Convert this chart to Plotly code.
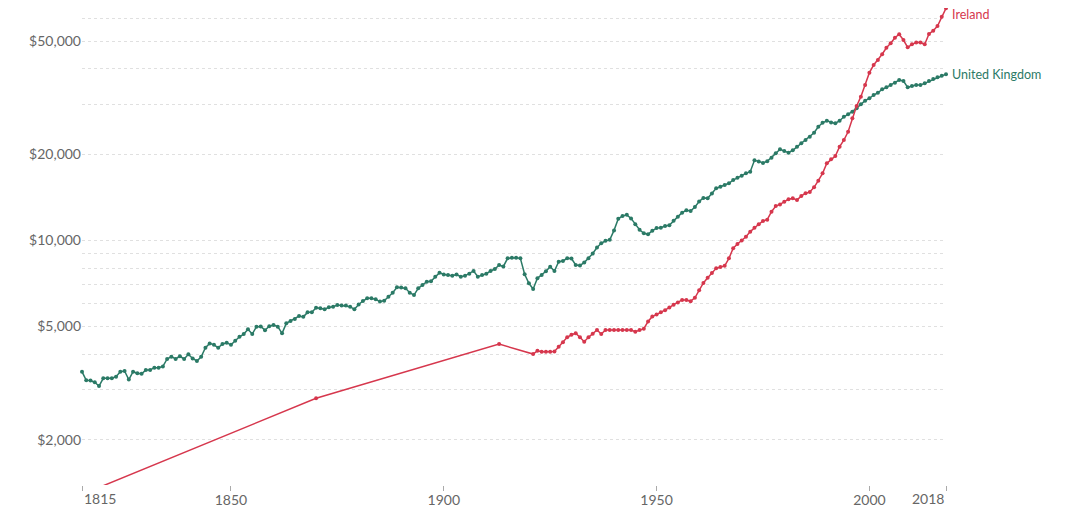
import numpy as np
import plotly.graph_objects as go

# GDP per capita (int.-$)
uk_years = list(range(1815, 2019))
uk_gdp = [
    3470, 3236, 3230, 3185, 3090, 3290, 3290, 3290, 3333, 3470,  # 1815-1824
    3490, 3255, 3470, 3425, 3410, 3518, 3518, 3584, 3584, 3620,  # 1825-1834
    3844, 3916, 3844, 3930, 3844, 3991, 3860, 3782, 3916, 4210,  # 1835-1844
    4360, 4310, 4210, 4340, 4385, 4310, 4456, 4600, 4700, 4882,  # 1845-1854
    4700, 4990, 5000, 4850, 5008, 5057, 4990, 4728, 5125, 5222,  # 1855-1864
    5307, 5436, 5400, 5600, 5600, 5815, 5790, 5740, 5830, 5862,  # 1865-1874
    5943, 5920, 5920, 5862, 5740, 5970, 6137, 6272, 6272, 6220,  # 1875-1884
    6110, 6150, 6355, 6562, 6855, 6840, 6800, 6562, 6440, 6800,  # 1885-1894
    6985, 7175, 7200, 7470, 7715, 7600, 7570, 7520, 7600, 7470,  # 1895-1904
    7520, 7650, 7820, 7470, 7570, 7650, 7820, 7945, 8205, 8110,  # 1905-1914
    8660, 8700, 8700, 8660, 7615, 7080, 6760, 7370, 7570, 7800,  # 1915-1924
    8095, 7820, 8425, 8480, 8660, 8650, 8205, 8180, 8370, 8660,  # 1925-1934
    9000, 9450, 9780, 9980, 10050, 10850, 11920, 12180, 12300, 11950,  # 1935-1944
    11400, 10900, 10600, 10510, 10820, 11050, 11080, 11240, 11300, 11730,  # 1945-1954
    12120, 12520, 12760, 12690, 13100, 13700, 14100, 14050, 14600, 15230,  # 1955-1964
    15430, 15640, 15860, 16290, 16600, 16860, 17190, 17420, 19100, 18930,  # 1965-1974
    18700, 18950, 19500, 20200, 20870, 20600, 20310, 20700, 21300, 21900,  # 1975-1984
    22490, 23100, 23850, 25040, 25850, 26280, 25930, 25730, 26280, 27140,  # 1985-1994
    27670, 28260, 29050, 30000, 30890, 31490, 32340, 32930, 33870, 34400,  # 1995-2004
    35040, 35720, 36500, 36200, 34400, 34800, 35040, 35040, 35540, 36200,  # 2005-2014
    36800, 37300, 37800, 38220,  # 2015-2018
]

ie_years = [1820, 1870, 1913] + list(range(1921, 2019))
ie_gdp = [
    1383, 2800, 4337,  # 1820, 1870, 1913
    4000, 4110, 4075, 4075, 4075, 4080, 4245, 4397, 4578,  # 1921-1929
    4674, 4730, 4578, 4420, 4578, 4715, 4858, 4700, 4858, 4858,  # 1930-1939
    4858, 4858, 4858, 4858, 4858, 4790, 4858, 4910, 5200, 5420,  # 1940-1949
    5500, 5600, 5700, 5820, 5960, 6060, 6190, 6190, 6130, 6300,  # 1950-1959
    6700, 7100, 7400, 7700, 7990, 8070, 8150, 8660, 9390, 9720,  # 1960-1969
    10000, 10310, 10740, 11085, 11400, 11700, 11830, 12615, 13200, 13380,  # 1970-1979
    13675, 13950, 14050, 13850, 14325, 14630, 14800, 15360, 16200, 17190,  # 1980-1989
    18640, 19250, 19770, 21310, 22490, 24050, 26800, 29590, 31910, 35040,  # 1990-1999
    38730, 41190, 42890, 44930, 47340, 49080, 51360, 52800, 50400, 47520,  # 2000-2009
    48690, 49350, 49350, 48690, 52900, 54340, 56440, 60810, 65100,  # 2010-2018
]

y_tickvals = [2000, 3000, 4000, 5000, 6000, 7000, 8000, 9000,
              10000, 20000, 30000, 40000, 50000, 60000]
y_ticktext = ["$2,000", "", "", "$5,000", "", "", "", "",
              "$10,000", "$20,000", "", "", "$50,000", ""]
x_tickvals = [1815, 1850, 1900, 1950, 2000, 2018]
x_ticktext = ["", "1850", "1900", "1950", "2000", ""]

ie_color = "#d6374d"
uk_color = "#2b7a66"
axis_grey = "#666666"
font = "Lato, 'Open Sans', sans-serif"

fig = go.Figure()
fig.add_trace(go.Scatter(x=uk_years, y=uk_gdp, name="United Kingdom",
                         mode="lines+markers", cliponaxis=False,
                         line=dict(color=uk_color, width=1.5),
                         marker=dict(color=uk_color, size=4)))
fig.add_trace(go.Scatter(x=ie_years, y=ie_gdp, name="Ireland",
                         mode="lines+markers", cliponaxis=False,
                         line=dict(color=ie_color, width=1.5),
                         marker=dict(color=ie_color, size=4)))

# end labels for the lines
fig.add_annotation(x=ie_years[-1], y=np.log10(ie_gdp[-1]), text="Ireland",
                   xanchor="left", yanchor="middle", xshift=4, yshift=-6,
                   showarrow=False, font=dict(family=font, size=12.5, color=ie_color))
fig.add_annotation(x=uk_years[-1], y=np.log10(uk_gdp[-1]), text="United Kingdom",
                   xanchor="left", yanchor="middle", xshift=4,
                   showarrow=False, font=dict(family=font, size=12.5, color=uk_color))

# first / last year labels sit inside the axis ends
fig.add_annotation(x=x_tickvals[0], y=0, yref="paper", text=str(x_tickvals[0]),
                   xanchor="left", yanchor="top", yshift=-3, showarrow=False,
                   font=dict(family=font, size=14, color=axis_grey))
fig.add_annotation(x=x_tickvals[-1], y=0, yref="paper", text=str(x_tickvals[-1]),
                   xanchor="right", yanchor="top", yshift=-3, showarrow=False,
                   font=dict(family=font, size=14, color=axis_grey))

fig.update_xaxes(range=[1815, 2018], tickvals=x_tickvals, ticktext=x_ticktext,
                 showgrid=False, zeroline=False, showline=False,
                 ticks="outside", ticklen=5, tickcolor="#aaaaaa", tickwidth=1,
                 ticklabelstandoff=-3,
                 tickfont=dict(family=font, size=14, color=axis_grey),
                 automargin=False)
fig.update_yaxes(type="log", range=[3.1433, 4.8146],
                 tickvals=y_tickvals, ticktext=y_ticktext,
                 showgrid=True, gridcolor="#e0e0e0", griddash="3px,3px", gridwidth=1,
                 zeroline=False, showline=False, ticks="",
                 tickfont=dict(family=font, size=14, color=axis_grey),
                 automargin=False)

# the page adds an 8px body margin, so the margins are shifted to compensate
fig.update_layout(width=1066, height=508, showlegend=False,
                  margin=dict(l=74, r=128, t=0, b=31),
                  paper_bgcolor="white", plot_bgcolor="white",
                  font=dict(family=font))

fig.write_html("out.html")
